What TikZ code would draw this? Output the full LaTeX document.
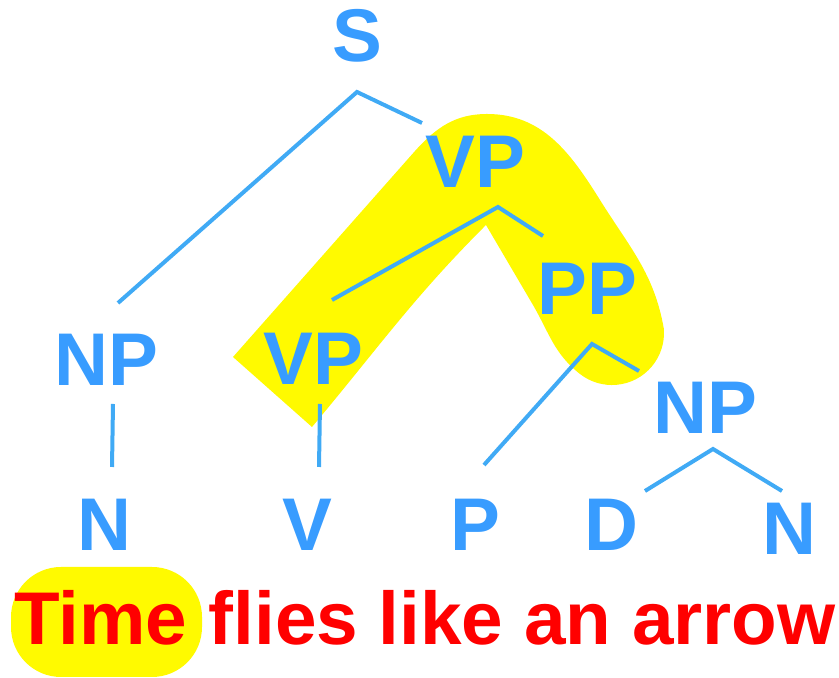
\documentclass[tikz,border=0pt]{standalone}
\usepackage{fontspec}
\setmainfont{Liberation Sans}
\usetikzlibrary{positioning}

\definecolor{catblue}{RGB}{56,156,255}
\definecolor{branchblue}{RGB}{64,170,245}
\definecolor{marker}{RGB}{255,250,0}

\tikzset{
  cat/.style={text=catblue, font=\fontsize{42.5}{50}\selectfont\bfseries, inner sep=0pt, anchor=base},
  word/.style={text=red, font=\fontsize{42.5}{50}\selectfont\bfseries, inner sep=0pt, anchor=base west},
  branch/.style={draw=branchblue, line width=0.8mm},
}

\begin{document}
\begin{tikzpicture}[x=0.2mm, y=0.2mm]
    \useasboundingbox (0,0) rectangle (839,678);

    % highlighted VP -> PP spine and the head word
    \fill[marker] (233,321) -- (415,527) to[out=48, in=180] (487,564)
        to[out=0, in=122] (600,478) to[out=-58, in=100] (663.8,349.5)
        arc[start angle=5, end angle=-128, radius=10.4mm]
        to[out=142, in=-60] (533,373) -- (486,453)
        to[out=-135, in=50] (312,251) -- cycle;
    \fill[marker, rounded corners=10mm] (11,1) rectangle (202,111);

    \node[cat] (s) at (357,616) {S};
    \node[cat] (vp1) at (475,490) {VP};
    \node[cat] (np1) at (106,292) {NP};
    \node[cat] (vp2) at (313,293) {VP};
    \node[cat] (pp) at (587,363) {PP};
    \node[cat] (np2) at (705,244) {NP};
    \node[cat] (n1) at (104,127) {N};
    \node[cat] (v) at (307,127) {V};
    \node[cat] (p) at (475,127) {P};
    \node[cat] (d) at (611,127) {D};
    \node[cat] (n2) at (789,123) {N};

    \node[word] (time) at (14,33) {Time};
    \node[word] (rest) at ([xshift=11.8pt]time.base east) {flies like an arrow};

    % forks under the phrases
    \coordinate (s-fork) at ([shift={(0,-30)}]s.base);
    \coordinate (vp1-fork) at ([shift={(23,-19)}]vp1.base);
    \coordinate (pp-fork) at ([shift={(5,-29)}]pp.base);
    \coordinate (np2-fork) at ([shift={(8,-15)}]np2.base);

    \draw[branch] ([shift={(12,83)}]np1.base) -- (s-fork) -- ([shift={(-53,65)}]vp1.base);
    \draw[branch] ([shift={(19,85)}]vp2.base) -- (vp1-fork) -- ([shift={(-44,79)}]pp.base);
    \draw[branch] ([shift={(9,86)}]p.base) -- (pp-fork) -- ([shift={(-66,63)}]np2.base);
    \draw[branch] ([shift={(34,60)}]d.base) -- (np2-fork) -- ([shift={(-7,64)}]n2.base);
    \draw[branch] ([shift={(7,-18)}]np1.base) -- ([shift={(8,84)}]n1.base);
    \draw[branch] ([shift={(7,-19)}]vp2.base) -- ([shift={(12,84)}]v.base);
\end{tikzpicture}
\end{document}
